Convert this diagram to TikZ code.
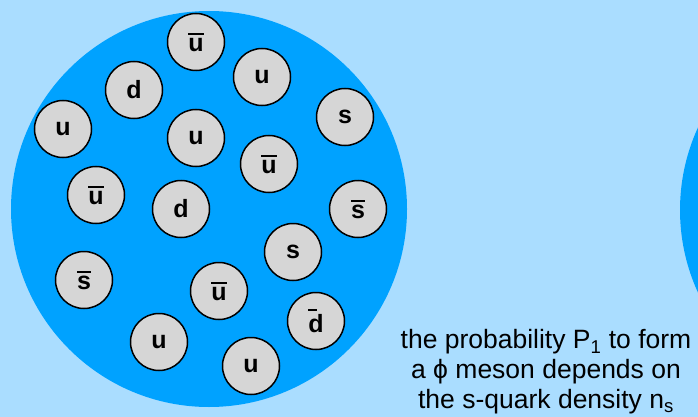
\documentclass[tikz,border=0pt]{standalone}
\usepackage{fontspec}
\setmainfont{Liberation Sans}
\definecolor{bgblue}{RGB}{170,221,255}
\definecolor{ballblue}{RGB}{0,162,255}
\definecolor{quarkgray}{RGB}{214,214,214}
\newsavebox\quarkbox
% antiquark: letter with a bar over it (optional: bar width as fraction of letter)
\newcommand\antiq[2][1]{\sbox\quarkbox{#2}%
  \rlap{\raisebox{\dimexpr\ht\quarkbox+3pt\relax}{\rule{#1\wd\quarkbox}{2.2pt}}}\usebox\quarkbox}
\tikzset{
  quark/.style={circle,draw,line width=1.5pt,fill=quarkgray,minimum size=57pt,inner sep=0pt,
    font=\fontsize{25}{30}\selectfont\bfseries},
  caption/.style={align=center,inner sep=0pt,font=\fontsize{26.5}{30}\selectfont}
}

\begin{document}
\begin{tikzpicture}[x=1pt,y=-1pt]
  \clip (0,0) rectangle (698,417);
  \fill[bgblue] (0,0) rectangle (698,417);
  % the two fireballs
  \fill[ballblue] (209,209) circle (198);
  \fill[ballblue] (878,210) circle (198);
  % quarks
  \node[quark] (ubar1) at (196,42)  {\antiq{u}};
  \node[quark] (u1)    at (262,77)  {u};
  \node[quark] (d1)    at (134,90)  {d};
  \node[quark] (s1)    at (345,117) {s};
  \node[quark] (u2)    at (63,129)  {u};
  \node[quark] (u3)    at (196,138) {u};
  \node[quark] (ubar2) at (269,164) {\antiq{u}};
  \node[quark] (ubar3) at (96,195)  {\antiq{u}};
  \node[quark] (d2)    at (181,209) {d};
  \node[quark] (sbar1) at (358,209) {\antiq{s}};
  \node[quark] (s2)    at (293,252) {s};
  \node[quark] (sbar2) at (84,280)  {\antiq{s}};
  \node[quark] (ubar4) at (219,291) {\antiq{u}};
  \node[quark] (dbar1) at (316,321) {\antiq[0.55]{d}};
  \node[quark] (u4)    at (159,342) {u};
  \node[quark] (u5)    at (251,366) {u};
  % caption
  \node[caption] (note) at (546,372) {the probability P\textsubscript{1} to form\\
    a ϕ meson depends on\\the s-quark density n\textsubscript{s}};
\end{tikzpicture}
\end{document}
